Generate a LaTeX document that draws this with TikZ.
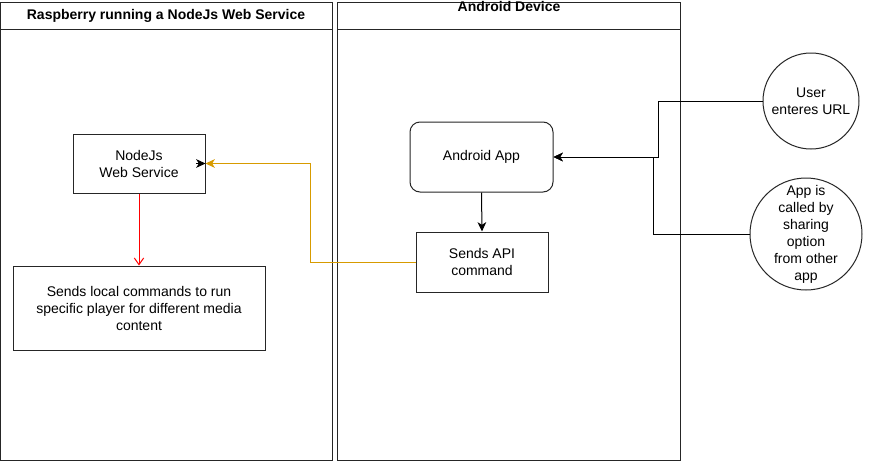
\documentclass[tikz,border=0pt]{standalone}
\usepackage{fontspec}
\setmainfont{Liberation Sans}
\usetikzlibrary{arrows.meta,shapes.geometric}
\begin{document}
\begin{tikzpicture}[x=0.75pt,y=-0.75pt,
  every node/.style={font=\fontsize{10.5}{12.75}\selectfont},
  pool/.style={draw=black!85,line width=0.75pt},
  title/.style={font=\bfseries\fontsize{10.5}{12.75}\selectfont},
  box/.style={draw=black!85,line width=0.75pt,align=center,inner sep=2pt},
  circ/.style={draw=black!85,line width=0.75pt,circle,inner sep=0pt},
  ctext/.style={align=center,inner sep=0pt},
  arr/.style={line width=0.75pt,-{Stealth[length=7pt,width=6.5pt,inset=2pt]}},
  oarr/.style={line width=0.75pt,draw=orange1,-{Stealth[length=7pt,width=6.5pt,inset=2pt]}},
  rarr/.style={line width=0.75pt,draw=red,-{Straight Barb[length=5pt,width=7pt]}}
]
\definecolor{orange1}{HTML}{D79B00}
\useasboundingbox (0,0) rectangle (872,461);
\fill[white] (0,0) rectangle (872,461);
% pools
\draw[pool] (0.5,2) rectangle (332,460);
\draw[pool] (0.5,29) -- (332,29);
\draw[pool] (337,2) rectangle (680,460);
\draw[pool] (337,29) -- (680,29);
\node[title] (t1) at (166,16) {Raspberry running a NodeJs Web Service};
\node[title] (t2) at (509,6) {Android Device};
% nodes
\node[box,minimum width=99pt,minimum height=44.25pt] (node) at (139,163.5) {NodeJs\\Web Service};
\node[box,minimum width=189pt,minimum height=63pt] (local) at (139,308) {Sends local commands to run\\specific player for different media\\content};
\node[box,rounded corners=7.5pt,minimum width=107.25pt,minimum height=52.5pt] (app) at (481.5,157) {Android App};
\node[box,minimum width=99pt,minimum height=45pt] (api) at (482,262) {Sends API\\command};
\node[circ,minimum size=72pt] (c1) at (811,101) {};
\node[ctext] (c1t) at (c1.center) {User\\enteres URL};
\node[circ,minimum size=84pt] (c2) at (806,234) {};
\node[ctext] (c2t) at (c2.center) {App is\\called by\\sharing\\option\\from other\\app};
% connectors
\coordinate (k1) at (658,101);
\coordinate (k2) at (653,234);
\coordinate (k3) at (310,262);
\draw[arr] (c1.west) -- (k1) |- (app.east);
\draw[arr] (c2.west) -- (k2) |- (app.east);
\draw[arr] (app.south) -- (api.north);
\draw[oarr] (api.west) -- (k3) |- (node.east);
\draw[arr] ([xshift=-7pt]node.east) -- (node.east);
\draw[rarr] (node.south) -- (local.north);
\end{tikzpicture}
\end{document}
